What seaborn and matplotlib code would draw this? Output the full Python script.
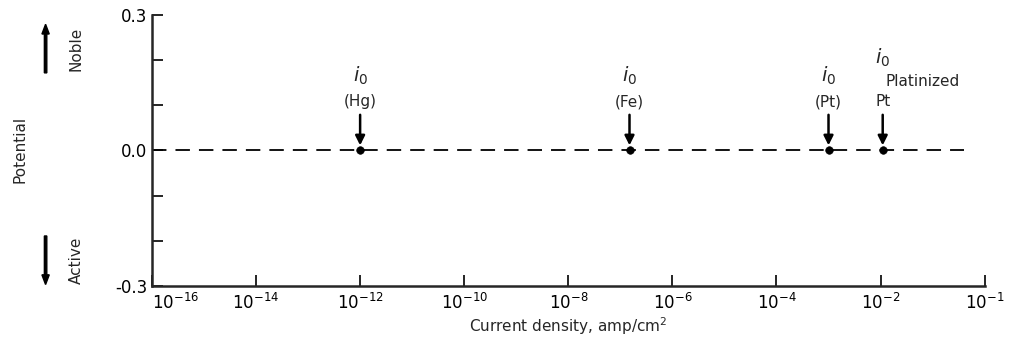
import numpy as np
import pandas as pd
import seaborn as sns
import matplotlib.pyplot as plt

# 数据
line_x = [1e-16, 4e-1]
line_y = [0.0, 0.0]
io_x = [1e-12, 1.5e-7, 1e-3, 1.1e-2]
io_y = [0.0, 0.0, 0.0, 0.0]
io_names = ["(Hg)", "(Fe)", "(Pt)", "Pt"]
x_ticks = [1e-16, 1e-14, 1e-12, 1e-10, 1e-8, 1e-6, 1e-4, 1e-2, 1e0]
x_labels = ["$10^{-16}$", "$10^{-14}$", "$10^{-12}$", "$10^{-10}$", "$10^{-8}$",
            "$10^{-6}$", "$10^{-4}$", "$10^{-2}$", "$10^{-1}$"]
y_major = [-0.3, 0.0, 0.3]
y_labels = ["-0.3", "0.0", "0.3"]
y_minor = [-0.2, -0.1, 0.1, 0.2]

sns.set_style("ticks")
plt.rcParams['font.family'] = ['DejaVu Sans']

fig = plt.figure(figsize=(10.13, 3.47), dpi=100)
ax = fig.add_axes([0.150, 0.176, 0.822, 0.781])

line_df = pd.DataFrame({"x": line_x, "y": line_y})
sns.lineplot(data=line_df, x="x", y="y", ax=ax, color="black", lw=1.3,
             linestyle=(0, (8, 5)))
pts = pd.DataFrame({"x": io_x, "y": io_y})
sns.scatterplot(data=pts, x="x", y="y", ax=ax, color="black", s=30,
                edgecolor="black", zorder=5)

ax.set_xscale("log")
ax.set_xlim(1e-16, 1e0)
ax.set_ylim(-0.3, 0.3)
ax.set_xticks(x_ticks)
ax.set_xticklabels(x_labels, fontsize=12)
ax.xaxis.set_minor_locator(plt.NullLocator())
ax.set_yticks(y_major)
ax.set_yticklabels(y_labels, fontsize=12)
ax.set_yticks(y_minor, minor=True)
ax.tick_params(axis="both", which="both", direction="in", length=8, width=1.2,
               colors="black")
ax.tick_params(axis="x", pad=5)
ax.get_xticklabels()[0].set_horizontalalignment("left")
ax.get_xticklabels()[-1].set_horizontalalignment("center")
for s in ["top", "right"]:
    ax.spines[s].set_visible(False)
for s in ["left", "bottom"]:
    ax.spines[s].set_linewidth(1.8)

# 箭头和标注
for xv, name in zip(io_x, io_names):
    ax.annotate("", xy=(xv, 0.005), xytext=(xv, 0.085),
                arrowprops=dict(arrowstyle="-|>", color="black", lw=1.8,
                                mutation_scale=14))
    ax.text(xv, 0.108, name, ha="center", va="center", fontsize=11)
    if name == "Pt":
        ax.text(xv, 0.205, "$i_0$", ha="center", va="center", fontsize=14)
        ax.text(xv * 1.15, 0.153, "Platinized", ha="left", va="center", fontsize=11)
    else:
        ax.text(xv, 0.165, "$i_0$", ha="center", va="center", fontsize=14)

ax.set_xlabel("Current density, amp/cm$^2$", fontsize=11, labelpad=2)
ax.set_ylabel("")
fig.text(0.020, 0.57, "Potential", rotation=90, ha="center", va="center", fontsize=11)
fig.text(0.075, 0.86, "Noble", rotation=90, ha="center", va="center", fontsize=11)
fig.text(0.075, 0.25, "Active", rotation=90, ha="center", va="center", fontsize=11)
fig.patches.append(plt.Arrow(0.045, 0.79, 0, 0.14, width=0.012,
                             transform=fig.transFigure, color="black", figure=fig))
fig.patches.append(plt.Arrow(0.045, 0.32, 0, -0.14, width=0.012,
                             transform=fig.transFigure, color="black", figure=fig))

plt.savefig("out.png", dpi=100)
